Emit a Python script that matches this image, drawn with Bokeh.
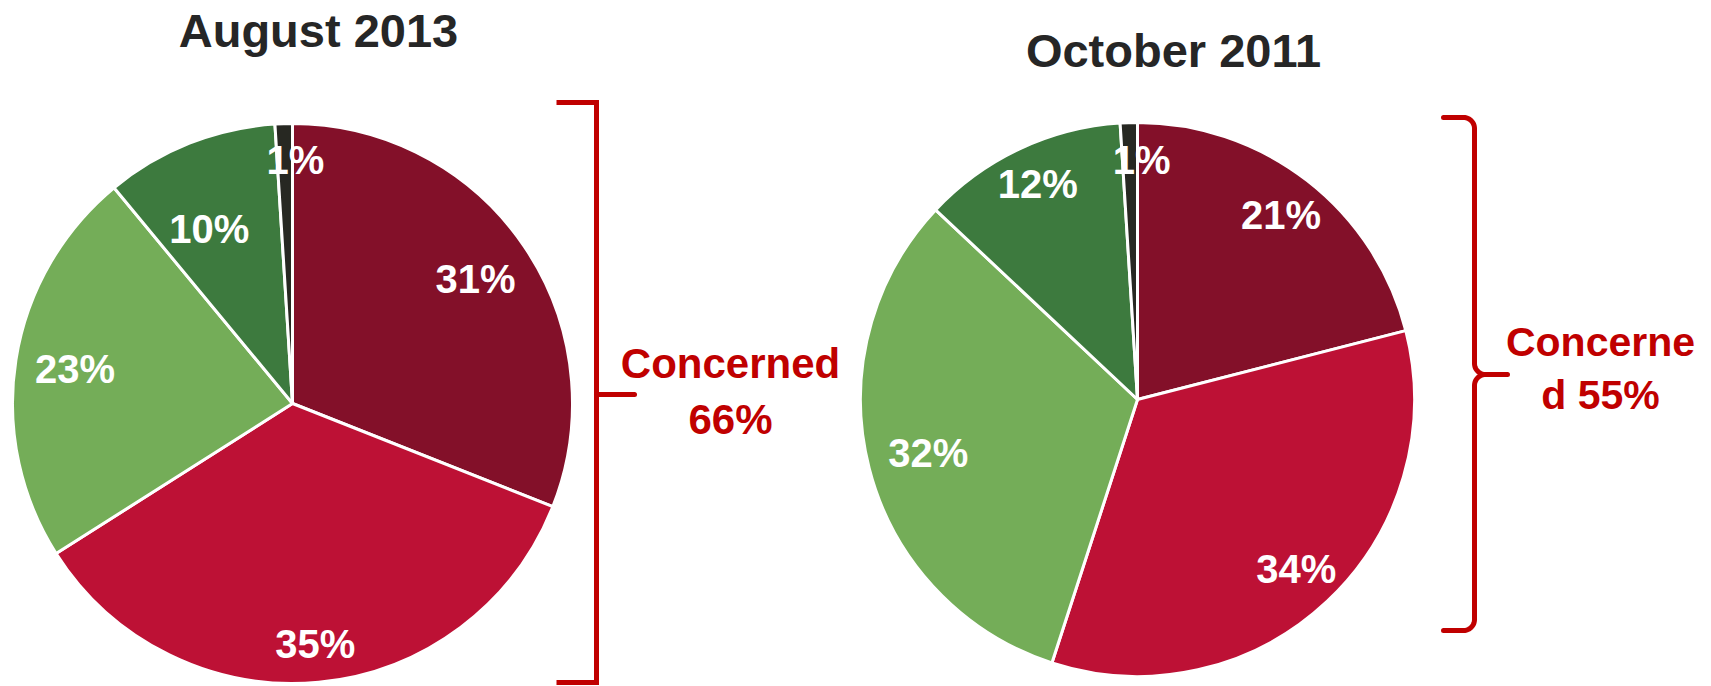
import numpy as np
from bokeh.plotting import figure
from bokeh.models import Range1d, ColumnDataSource
from bokeh.core.properties import value
from bokeh.embed import file_html
from bokeh.resources import INLINE

# ---------------- data ----------------
titles = ["August 2013", "October 2011"]
segments = ["Very concerned", "Somewhat concerned", "Not too concerned",
            "Not at all concerned", "Don't know"]
aug_2013 = [31, 35, 23, 10, 1]
oct_2011 = [21, 34, 32, 12, 1]
concerned_text = [["Concerned", "66%"], ["Concerne", "d 55%"]]

# ---------------- style ----------------
colors = ["#831029", "#BD1135", "#74AD58", "#3D7A3E", "#272822"]
bracket_red = "#C00000"
FONT = value("Liberation Sans")

W, H = 1711, 686
PAGE_H = 686


def Y(s):
    """screen y (page pixels) -> data y"""
    return PAGE_H - np.asarray(s, dtype=float)


p = figure(width=W, height=H, x_range=Range1d(0, W),
           y_range=Range1d(0, H),
           output_backend="svg", toolbar_location=None, min_border=0,
           x_axis_location=None, y_axis_location=None)
p.grid.visible = False
p.outline_line_color = None
p.background_fill_color = "white"
p.border_fill_color = "white"

pies = [
    dict(values=aug_2013, cx=292, cy=403, r=280,
         label_r=[0.79, 0.864, 0.786, 0.69, 0.87],
         label_shift=[0, 0, 0, -3.9, 2.5],
         title_x=318, title_y=30),
    dict(values=oct_2011, cx=1137, cy=399, r=277,
         label_r=[0.845, 0.838, 0.78, 0.856, 0.863],
         label_shift=[0, 0, 0, 0.3, 2.8],
         title_x=1173, title_y=50),
]

for pie, title in zip(pies, titles):
    vals = np.array(pie["values"], dtype=float)
    frac = vals / vals.sum()
    c1 = np.cumsum(frac)
    c0 = c1 - frac
    start = np.pi / 2 - 2 * np.pi * c0
    end = np.pi / 2 - 2 * np.pi * c1
    src = ColumnDataSource(dict(start=start, end=end, color=colors,
                                segment=segments, value=vals))
    p.wedge(x=pie["cx"], y=float(Y(pie["cy"])), radius=pie["r"],
            start_angle="start", end_angle="end", direction="clock",
            fill_color="color", line_color="white", line_width=3,
            source=src)
    # labels
    mid = 360 * (c0 + c1) / 2 + np.array(pie["label_shift"])
    rad = np.radians(mid)
    lr = np.array(pie["label_r"]) * pie["r"]
    lx = pie["cx"] + lr * np.sin(rad)
    ly = Y(pie["cy"]) + lr * np.cos(rad)
    lsrc = ColumnDataSource(dict(x=lx, y=ly, t=[f"{int(v)}%" for v in vals]))
    p.text(x="x", y="y", text="t", source=lsrc, text_color="white",
           text_font=FONT, text_font_style="bold", text_font_size="40px",
           text_align="center", text_baseline="middle")
    # title
    p.text(x=[pie["title_x"]], y=[float(Y(pie["title_y"]))], text=[title],
           text_color="#262626", text_font=FONT, text_font_style="bold",
           text_font_size="47px", text_align="center", text_baseline="middle")

# ---------------- left square bracket ----------------
bx, bl, btop, bbot, bmid, btip = 596, 556, 102, 682, 394, 634
p.line(x=[bl, bx, bx, bl], y=Y([btop, btop, bbot, bbot]),
       line_color=bracket_red, line_width=5, line_join="miter")
p.line(x=[bx, btip], y=Y([bmid, bmid]), line_color=bracket_red,
       line_width=5, line_cap="round")
for txt, ty in zip(concerned_text[0], [363, 419]):
    p.text(x=[730], y=[float(Y(ty))], text=[txt], text_color=bracket_red,
           text_font=FONT, text_font_style="bold", text_font_size="42px",
           text_align="center", text_baseline="middle")


# ---------------- right curly brace ----------------
def arc(cx, cy, r, a0, a1, n=14):
    a = np.radians(np.linspace(a0, a1, n))
    return cx + r * np.cos(a), cy + r * np.sin(a)


xv, xl, top, mid_y, bot, tip, rc = 1474, 1443, 117, 374, 630, 1507, 11
xs, ys = [xl], [top]
ax, ay = arc(xv - rc, top + rc, rc, -90, 0); xs += list(ax); ys += list(ay)
ax, ay = arc(xv + rc, mid_y - rc, rc, 180, 90); xs += list(ax); ys += list(ay)
xs += [tip]; ys += [mid_y]
p.line(x=xs, y=Y(ys), line_color=bracket_red, line_width=5,
       line_cap="round", line_join="round")
xs, ys = [], []
ax, ay = arc(xv + rc, mid_y + rc, rc, 270, 180); xs += list(ax); ys += list(ay)
ax, ay = arc(xv - rc, bot - rc, rc, 0, 90); xs += list(ax); ys += list(ay)
xs += [xl]; ys += [bot]
p.line(x=xs, y=Y(ys), line_color=bracket_red, line_width=5,
       line_cap="round", line_join="round")
for txt, ty in zip(concerned_text[1], [341, 394]):
    p.text(x=[1600], y=[float(Y(ty))], text=[txt], text_color=bracket_red,
           text_font=FONT, text_font_style="bold", text_font_size="41px",
           text_align="center", text_baseline="middle")

open("out.html", "w").write(file_html(p, INLINE))
